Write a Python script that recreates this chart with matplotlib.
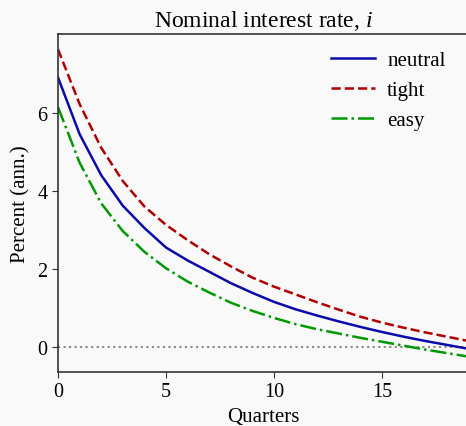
import numpy as np
import matplotlib
matplotlib.use("Agg")
import matplotlib.pyplot as plt

# quarters and paths of the nominal rate (percent, annualised)
quarters = np.arange(20)
neutral = [6.90, 5.45, 4.40, 3.62, 3.05, 2.55, 2.22, 1.93, 1.64, 1.39,
           1.16, 0.97, 0.81, 0.66, 0.52, 0.39, 0.27, 0.16, 0.06, -0.04]
tight = [7.62, 6.22, 5.10, 4.25, 3.60, 3.13, 2.74, 2.38, 2.07, 1.78,
         1.55, 1.35, 1.15, 0.96, 0.78, 0.63, 0.50, 0.38, 0.27, 0.16]
easy = [6.14, 4.72, 3.68, 2.97, 2.44, 2.02, 1.68, 1.40, 1.14, 0.93,
        0.75, 0.59, 0.46, 0.35, 0.24, 0.14, 0.04, -0.06, -0.15, -0.24]

plt.rcParams["font.family"] = ["Liberation Serif", "DejaVu Serif"]
plt.rcParams["mathtext.fontset"] = "custom"
plt.rcParams["mathtext.it"] = "Liberation Serif:italic"
plt.rcParams["mathtext.rm"] = "Liberation Serif"

bg = "#f9f9f9"
fig = plt.figure(figsize=(4.66, 4.27), dpi=100, facecolor=bg)
ax = fig.add_axes([0.1245, 0.1265, 0.8807, 0.7916], facecolor=bg)

ax.axhline(0, color="#888888", linestyle=":", linewidth=1.5)
ax.plot(quarters, neutral, color="#0b0bab", linewidth=1.8, label="neutral")
ax.plot(quarters, tight, color="#b00000", linewidth=1.8, linestyle="--", label="tight")
ax.plot(quarters, easy, color="#009900", linewidth=1.8, linestyle="-.", label="easy")

ax.set_xlim(0, 19)
ax.set_xticks([0, 5, 10, 15])
ax.set_yticks([0, 2, 4, 6])
ax.set_title("Nominal interest rate, $i$", fontsize=17, pad=6)
ax.set_xlabel("Quarters", fontsize=15, labelpad=4)
ax.set_ylabel("Percent (ann.)", fontsize=15, labelpad=5)
ax.tick_params(labelsize=14.5, length=4, color="#333333")
for s in ax.spines.values():
    s.set_color("#333333")
    s.set_linewidth(1.2)

ax.legend(loc="upper right", frameon=False, fontsize=15, handlelength=2.1,
          labelspacing=0.5, handletextpad=0.6, borderaxespad=0.4,
          bbox_to_anchor=(0.985, 1.0))

fig.savefig("out.png", dpi=100, facecolor=bg)
